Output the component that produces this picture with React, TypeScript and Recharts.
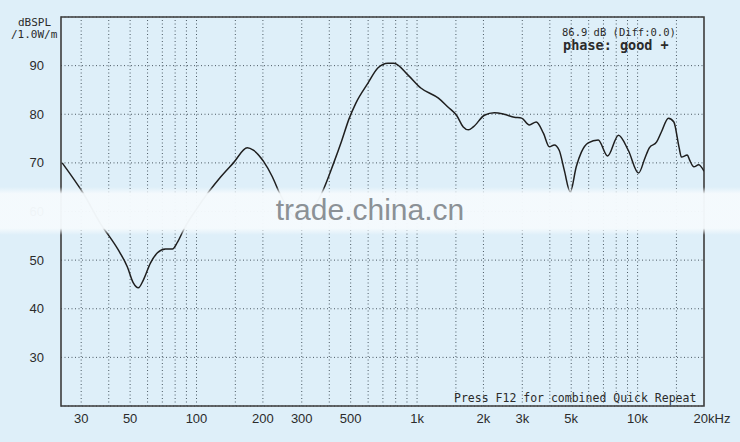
import React from "react";
import {
	CartesianGrid,
	Line,
	LineChart,
	ReferenceArea,
	ReferenceLine,
	XAxis,
	YAxis,
} from "recharts";

// frequency response (Hz / dB SPL)
const freqs = [
	24.6, 30.6, 37.8, 39.8, 44.2, 48.6, 51.7, 54.5, 57.4, 61.8, 66.5, 72.3, 77.8,
	82, 88.2, 100, 113, 128.6, 147, 170, 181, 202, 221, 238, 290, 370, 419, 455,
	491, 528, 599, 664, 738, 786, 908, 1040, 1250, 1380, 1510, 1620, 1710, 1800,
	2020, 2240, 2480, 2760, 2980, 3230, 3470, 3740, 3980, 4190, 4410, 4650, 4950,
	5270, 5560, 5970, 6630, 7310, 8190, 9070, 10100, 10800, 11300, 12200, 12800,
	13800, 14600, 15400, 15800, 16800, 17200, 18000, 18900, 20000,
];
const spl = [
	70.0, 63.8, 56.6, 55.2, 52.1, 48.6, 45.3, 44.3, 45.9, 49.4, 51.5, 52.3, 52.3,
	53.7, 56.6, 60.5, 63.9, 67.1, 70.0, 73.1, 72.6, 70.2, 67.1, 63.8, 58.5, 63.8,
	70.0, 74.5, 79.0, 82.3, 86.4, 89.5, 90.5, 90.5, 88.1, 85.4, 83.3, 81.5, 79.8,
	77.4, 76.8, 77.4, 79.8, 80.3, 80.0, 79.4, 79.2, 77.8, 78.4, 76.1, 73.3, 73.7,
	72.6, 68.5, 64.0, 69.2, 72.2, 74.1, 74.7, 71.4, 75.7, 72.6, 67.9, 71.0, 73.1,
	74.3, 76.3, 79.2, 78.4, 73.3, 71.2, 71.6, 70.6, 69.2, 69.6, 68.3,
];

const freqTicks = [30, 50, 100, 200, 300, 500, 1000, 2000, 3000, 5000, 10000, 20000];
const freqGrid = [
	30, 40, 50, 60, 70, 80, 90, 100, 150, 200, 300, 400, 500, 600, 700, 800, 900,
	1000, 1500, 2000, 3000, 4000, 5000, 6000, 7000, 8000, 9000, 10000, 15000,
];
const dbTicks = [30, 40, 50, 60, 70, 80, 90];

const data = freqs.map((f, i) => ({ f, db: spl[i] }));

const BG = "#deeff9";
const INK = "#2b2b2b";
const GRID = "#4b5963";
const SANS = "'Liberation Sans', Arial, sans-serif";
const MONO = "'DejaVu Sans Mono', 'Liberation Mono', monospace";

function freqLabel(v: number): string {
	if (v === 20000) return "20kHz";
	if (v >= 1000) return `${v / 1000}k`;
	return String(v);
}

function FreqTick(props: any) {
	const { x, y, payload } = props;
	const last = payload.value === 20000;
	return (
		<text
			x={x + (last ? 8 : 0)}
			y={y}
			dy="0.71em"
			textAnchor="middle"
			fill={INK}
			fontSize={13}
			fontFamily={SANS}
		>
			{freqLabel(payload.value)}
		</text>
	);
}

function DbTick(props: any) {
	const { x, y, payload } = props;
	return (
		<text
			x={x - 9}
			y={y}
			dy="0.355em"
			textAnchor="end"
			fill={INK}
			fontSize={13}
			fontFamily={SANS}
		>
			{payload.value}
		</text>
	);
}

const note: React.CSSProperties = {
	position: "absolute",
	fontFamily: MONO,
	color: INK,
	whiteSpace: "pre",
	lineHeight: "11px",
};

export default function App() {
	return (
		<div
			style={{
				position: "absolute",
				left: 0,
				top: 0,
				width: 740,
				height: 442,
				background: BG,
				overflow: "hidden",
			}}
		>
			<LineChart
				width={740}
				height={442}
				data={data}
				margin={{ top: 17, right: 36, bottom: 0, left: 0 }}
			>
				<CartesianGrid
					vertical={false}
					stroke={GRID}
					strokeDasharray="1 2.5"
				/>
				{freqGrid.map((f) => (
					<ReferenceLine
						key={f}
						x={f}
						stroke={GRID}
						strokeDasharray="1 2.5"
					/>
				))}
				<XAxis
					dataKey="f"
					type="number"
					scale="log"
					domain={[24.3, 20000]}
					allowDataOverflow
					ticks={freqTicks}
					height={36}
					axisLine={false}
					tickLine={false}
					tick={<FreqTick />}
				/>
				<YAxis
					type="number"
					domain={[20, 100]}
					allowDataOverflow
					ticks={dbTicks}
					width={61}
					axisLine={false}
					tickLine={false}
					tick={<DbTick />}
				/>
				<ReferenceArea
					x1={24.3}
					x2={20000}
					y1={20}
					y2={100}
					fill="none"
					stroke="#3c3c3c"
					strokeWidth={1.6}
				/>
				<Line
					dataKey="db"
					type="monotone"
					stroke="#1f1f1f"
					strokeWidth={1.5}
					dot={false}
					isAnimationActive={false}
				/>
			</LineChart>

			<div style={{ ...note, left: 18, top: 17, fontSize: 11 }}>dBSPL</div>
			<div style={{ ...note, left: 11, top: 29, fontSize: 11 }}>/1.0W/m</div>
			<div style={{ ...note, left: 562, top: 27, fontSize: 10.5 }}>
				86.9 dB (Diff:0.0)
			</div>
			<div
				style={{
					...note,
					left: 563,
					top: 39,
					fontSize: 13.5,
					fontWeight: "bold",
					lineHeight: "13px",
				}}
			>
				phase: good +
			</div>
			<div style={{ ...note, left: 454, top: 393, fontSize: 11.5 }}>
				Press F12 for combined Quick Repeat
			</div>

			{/* watermark band */}
			<div
				style={{
					position: "absolute",
					left: 0,
					top: 187,
					width: 740,
					height: 48,
					background:
						"linear-gradient(to bottom, rgba(245,250,253,0) 0%, rgba(245,250,253,0.97) 14%, rgba(245,250,253,0.97) 86%, rgba(245,250,253,0) 100%)",
				}}
			/>
			<div
				style={{
					position: "absolute",
					left: 0,
					width: 740,
					top: 193,
					textAlign: "center",
					fontFamily: SANS,
					fontSize: 30,
					lineHeight: "34px",
					color: "#8b9196",
				}}
			>
				trade.china.cn
			</div>
		</div>
	);
}
